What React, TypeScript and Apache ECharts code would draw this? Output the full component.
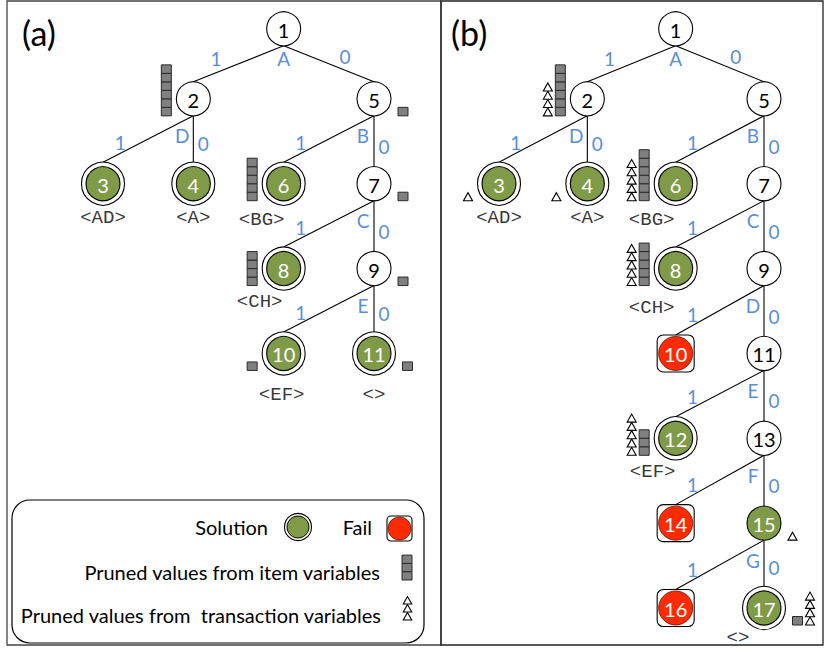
import React, { useEffect, useRef } from 'react';
import * as echarts from 'echarts';

// ---------------- Panel (a) : search tree ----------------
const idsA = [1, 2, 3, 4, 5, 6, 7, 8, 9, 10, 11];
const parentA = [0, 1, 2, 2, 1, 5, 5, 7, 7, 9, 9];
const branchA = ['', '1', '1', '0', '0', '1', '0', '1', '0', '1', '0'];
const columnA = [2, 1, 0, 1, 3, 2, 3, 2, 3, 2, 3];
const depthA = [0, 1, 2, 2, 1, 2, 2, 3, 3, 4, 4];
const kindA = ['open', 'open', 'solution', 'solution', 'open', 'solution', 'open', 'solution', 'open', 'solution', 'solution'];
const variableA = ['A', 'D', '', '', 'B', '', 'C', '', 'E', '', ''];
const itemPrunedA = [0, 6, 0, 0, 1, 5, 1, 4, 1, 1, 1];
const transPrunedA = [0, 0, 0, 0, 0, 0, 0, 0, 0, 0, 0];
const pruneSideA = ['', 'left', '', '', 'right', 'left', 'right', 'left', 'right', 'left', 'right'];
const patternA = ['', '', '<AD>', '<A>', '', '<BG>', '', '<CH>', '', '<EF>', '<>'];

// ---------------- Panel (b) : search tree ----------------
const idsB = [1, 2, 3, 4, 5, 6, 7, 8, 9, 10, 11, 12, 13, 14, 15, 16, 17];
const parentB = [0, 1, 2, 2, 1, 5, 5, 7, 7, 9, 9, 11, 11, 13, 13, 15, 15];
const branchB = ['', '1', '1', '0', '0', '1', '0', '1', '0', '1', '0', '1', '0', '1', '0', '1', '0'];
const columnB = [2, 1, 0, 1, 3, 2, 3, 2, 3, 2, 3, 2, 3, 2, 3, 2, 3];
const depthB = [0, 1, 2, 2, 1, 2, 2, 3, 3, 4, 4, 5, 5, 6, 6, 7, 7];
const kindB = ['open', 'open', 'solution', 'solution', 'open', 'solution', 'open', 'solution', 'open', 'fail', 'open', 'solution', 'open', 'fail', 'partial', 'fail', 'solution'];
const variableB = ['A', 'D', '', '', 'B', '', 'C', '', 'D', '', 'E', '', 'F', '', 'G', '', ''];
const itemPrunedB = [0, 6, 0, 0, 0, 6, 0, 5, 0, 0, 0, 3, 0, 0, 0, 0, 1];
const transPrunedB = [0, 4, 1, 1, 0, 5, 0, 5, 0, 0, 0, 5, 0, 0, 1, 0, 4];
const pruneSideB = ['', 'left', 'left', 'left', '', 'left', '', 'left', '', '', '', 'left', '', '', 'right', '', 'right'];
const patternB = ['', '', '<AD>', '<A>', '', '<BG>', '', '<CH>', '', '', '', '<EF>', '', '', '', '', '<>'];

// ---------------- Legend texts ----------------
const legendSolution = 'Solution';
const legendFail = 'Fail';
const legendItems = 'Pruned values from item variables';
const legendTrans = 'Pruned values from  transaction variables';
const panelTitles = ['(a)', '(b)'];

// ---------------- styles / layout ----------------
const BLUE = '#5a8fd8';
const GREEN = '#7f9b48';
const RED = '#ff2b00';
const SQUARE = '#808080';
const FONT = 'Lato, "Open Sans", sans-serif';
const MONO = '"Liberation Mono", "DejaVu Sans Mono", monospace';
const ROOT_LEVEL = 0.175;

const patternShiftA: Record<number, number[]> = { 6: [-22, 36], 8: [-24, 33], 10: [-2, 42], 11: [0, 42] };
const patternShiftB: Record<number, number[]> = { 6: [-24, 36], 8: [-24, 39], 12: [-23, 34], 17: [-26, 30] };

type Panel = {
  ids: number[]; parent: number[]; branch: string[]; column: number[]; depth: number[];
  kind: string[]; variable: string[]; itemPruned: number[]; transPruned: number[];
  pruneSide: string[]; pattern: string[]; shift: Record<number, number[]>;
};

const panels: Panel[] = [
  { ids: idsA, parent: parentA, branch: branchA, column: columnA, depth: depthA, kind: kindA, variable: variableA,
    itemPruned: itemPrunedA, transPruned: transPrunedA, pruneSide: pruneSideA, pattern: patternA, shift: patternShiftA },
  { ids: idsB, parent: parentB, branch: branchB, column: columnB, depth: depthB, kind: kindB, variable: variableB,
    itemPruned: itemPrunedB, transPruned: transPrunedB, pruneSide: pruneSideB, pattern: patternB, shift: patternShiftB },
];

const levelOf = (d: number) => (d === 0 ? ROOT_LEVEL : d);
const radiusOf = (k: string) => (k === 'solution' ? 21.5 : k === 'fail' ? 18.5 : 17);

function squareStack(xLeft: number, bottom: number, n: number, w = 10, h = 8.5) {
  const out: any[] = [];
  for (let k = 0; k < n; k++) {
    out.push({ type: 'rect', shape: { x: xLeft, y: bottom - (k + 1) * h, width: w, height: h },
      style: { fill: SQUARE, stroke: '#2a2a2a', lineWidth: 1 } });
  }
  return out;
}
function triangleStack(cx: number, bottom: number, n: number, w = 9, h = 8, step = 8.3) {
  const out: any[] = [];
  for (let k = 0; k < n; k++) {
    const b = bottom - k * step;
    out.push({ type: 'polygon', shape: { points: [[cx - w / 2, b], [cx + w / 2, b], [cx, b - h]] },
      style: { fill: '#fff', stroke: '#000', lineWidth: 1.1 } });
  }
  return out;
}

function nodeShapes(kind: string, x: number, y: number) {
  const out: any[] = [];
  if (kind === 'open') {
    out.push({ type: 'circle', shape: { cx: x, cy: y, r: 17 }, style: { fill: '#fff', stroke: '#000', lineWidth: 1.1 } });
  } else if (kind === 'partial') {
    out.push({ type: 'circle', shape: { cx: x, cy: y, r: 17 }, style: { fill: GREEN, stroke: '#000', lineWidth: 1.1 } });
  } else if (kind === 'solution') {
    out.push({ type: 'circle', shape: { cx: x, cy: y, r: 21.5 }, style: { fill: '#fff', stroke: '#000', lineWidth: 1.1 } });
    out.push({ type: 'circle', shape: { cx: x, cy: y, r: 17 }, style: { fill: GREEN, stroke: '#000', lineWidth: 1.1 } });
  } else {
    out.push({ type: 'rect', shape: { x: x - 18.5, y: y - 18.5, width: 37, height: 37, r: 6 },
      style: { fill: '#fff', stroke: '#000', lineWidth: 1.1 } });
    out.push({ type: 'circle', shape: { cx: x, cy: y, r: 17 }, style: { fill: RED, stroke: '#5a1000', lineWidth: 0.8 } });
  }
  return out;
}

function buildSeries(P: Panel, gi: number) {
  const edges: any[] = [];
  P.ids.forEach((id, i) => {
    if (P.parent[i] === 0) return;
    const pi = P.ids.indexOf(P.parent[i]);
    edges.push({ pi, ci: i });
  });
  const edgeSeries = {
    type: 'custom', xAxisIndex: gi, yAxisIndex: gi, clip: false, z: 2, silent: true,
    data: edges.map((e) => [P.column[e.pi], levelOf(P.depth[e.pi]), P.column[e.ci], levelOf(P.depth[e.ci])]),
    renderItem: (params: any, api: any) => {
      const e = edges[params.dataIndex];
      const p = api.coord([api.value(0), api.value(1)]);
      const c = api.coord([api.value(2), api.value(3)]);
      const sx = p[0], sy = p[1] + radiusOf(P.kind[e.pi]);
      const ex = c[0], ey = c[1] - radiusOf(P.kind[e.ci]);
      const isRoot = P.depth[e.pi] === 0;
      const br = P.branch[e.ci];
      let lx: number, ly: number;
      if (isRoot) {
        const t = br === '1' ? 0.75 : 0.68;
        lx = sx + (ex - sx) * t; ly = sy + (ey - sy) * t - 14;
      } else if (br === '1') {
        const t = 0.81;
        lx = sx + (ex - sx) * t; ly = sy + (ey - sy) * t - 11;
      } else {
        lx = sx + 10; ly = sy + (ey - sy) * 0.6;
      }
      return {
        type: 'group',
        children: [
          { type: 'line', shape: { x1: sx, y1: sy, x2: ex, y2: ey }, style: { stroke: '#000', lineWidth: 1.1 } },
          { type: 'text', style: { text: br, x: lx, y: ly, textAlign: 'center', textVerticalAlign: 'middle',
            fill: BLUE, fontSize: 19, fontFamily: FONT } },
        ],
      };
    },
  };
  const nodeSeries = {
    type: 'custom', xAxisIndex: gi, yAxisIndex: gi, clip: false, z: 3, silent: true,
    data: P.ids.map((id, i) => [P.column[i], levelOf(P.depth[i])]),
    renderItem: (params: any, api: any) => {
      const i = params.dataIndex;
      const pt = api.coord([api.value(0), api.value(1)]);
      const x = pt[0], y = pt[1];
      const kind = P.kind[i];
      const r = radiusOf(kind);
      const children: any[] = [];
      const ni = P.itemPruned[i], nt = P.transPruned[i];
      const bottom = y + 17;
      if (P.pruneSide[i] === 'left') {
        let right = x - r - 5;
        if (ni > 0) { children.push(...squareStack(right - 10, bottom, ni)); right -= 13; }
        if (nt > 0) { children.push(...triangleStack(right - 4.5, bottom, nt)); }
      } else if (P.pruneSide[i] === 'right') {
        let left = x + r + 7;
        if (ni > 0) { children.push(...squareStack(left, bottom, ni)); left += 13; }
        if (nt > 0) { children.push(...triangleStack(left + 4.5, bottom, nt)); }
      }
      children.push(...nodeShapes(kind, x, y));
      children.push({ type: 'text', style: { text: String(P.ids[i]), x, y: y + 1, textAlign: 'center', textVerticalAlign: 'middle',
        fill: kind === 'open' ? '#000' : '#fff', fontSize: 20, fontFamily: FONT } });
      if (P.variable[i]) {
        const root = P.depth[i] === 0;
        children.push({ type: 'text', style: { text: P.variable[i], x: root ? x : x - 11, y: root ? y + 30 : y + 37,
          textAlign: 'center', textVerticalAlign: 'middle', fill: BLUE, fontSize: 19, fontFamily: FONT } });
      }
      if (P.pattern[i]) {
        const sh = P.shift[P.ids[i]] || [0, 34];
        children.push({ type: 'text', style: { text: P.pattern[i], x: x + sh[0], y: y + sh[1], textAlign: 'center',
          textVerticalAlign: 'middle', fill: '#3a3a3a', fontSize: 19, fontFamily: MONO } });
      }
      return { type: 'group', children };
    },
  };
  return [edgeSeries, nodeSeries];
}

function legendGraphic() {
  const els: any[] = [];
  els.push({ type: 'rect', shape: { x: 12, y: 500, width: 412, height: 143, r: 18 },
    style: { fill: '#fff', stroke: '#000', lineWidth: 1.2 }, z: 1 });
  const txt = (text: string, x: number, y: number) => ({ type: 'text', z: 2,
    style: { text, x, y, textAlign: 'right', textVerticalAlign: 'middle', fill: '#000', fontSize: 20, fontFamily: FONT } });
  els.push(txt(legendSolution, 268, 527));
  els.push(txt(legendFail, 372, 527));
  els.push(txt(legendItems, 380, 572));
  els.push(txt(legendTrans, 381, 615));
  els.push({ type: 'circle', z: 2, shape: { cx: 298, cy: 527, r: 13.5 }, style: { fill: '#fff', stroke: '#000', lineWidth: 1.1 } });
  els.push({ type: 'circle', z: 2, shape: { cx: 298, cy: 527, r: 11 }, style: { fill: GREEN, stroke: '#000', lineWidth: 1 } });
  els.push({ type: 'rect', z: 2, shape: { x: 387, y: 516, width: 25, height: 25, r: 4 }, style: { fill: '#fff', stroke: '#000', lineWidth: 1.1 } });
  els.push({ type: 'circle', z: 2, shape: { cx: 399.5, cy: 528.5, r: 11.5 }, style: { fill: RED, stroke: '#5a1000', lineWidth: 0.8 } });
  squareStack(402, 580, 3, 10, 8.3).forEach((e) => els.push({ ...e, z: 2 }));
  triangleStack(407.5, 620, 3, 8.5, 7.5, 8).forEach((e) => els.push({ ...e, z: 2 }));
  return els;
}

export default function App() {
  const ref = useRef<HTMLDivElement>(null);
  useEffect(() => {
    document.body.style.margin = '0';
    const chart = echarts.init(ref.current!, undefined, { renderer: 'svg' });
    const series = [...buildSeries(panels[0], 0), ...buildSeries(panels[1], 1)];
    const graphic: any[] = [
      { type: 'rect', z: 0, shape: { x: 7, y: 1, width: 434, height: 644 }, style: { fill: 'none', stroke: '#444', lineWidth: 1.3 } },
      { type: 'rect', z: 0, shape: { x: 441, y: 1, width: 382, height: 644 }, style: { fill: 'none', stroke: '#222', lineWidth: 1.3 } },
      { type: 'text', z: 2, style: { text: panelTitles[0], x: 22, y: 32, textAlign: 'left', textVerticalAlign: 'middle', fill: '#000', fontSize: 34, fontFamily: FONT } },
      { type: 'text', z: 2, style: { text: panelTitles[1], x: 451, y: 32, textAlign: 'left', textVerticalAlign: 'middle', fill: '#000', fontSize: 34, fontFamily: FONT } },
      ...legendGraphic(),
    ];
    chart.setOption({
      animation: false,
      backgroundColor: '#fff',
      grid: [
        { left: 103, top: 14, width: 271, height: 594 },
        { left: 499, top: 14, width: 265, height: 594 },
      ],
      xAxis: [
        { gridIndex: 0, type: 'value', min: 0, max: 3, show: false },
        { gridIndex: 1, type: 'value', min: 0, max: 3, show: false },
      ],
      yAxis: [
        { gridIndex: 0, type: 'value', min: 0, max: 7, inverse: true, show: false },
        { gridIndex: 1, type: 'value', min: 0, max: 7, inverse: true, show: false },
      ],
      series,
      graphic,
    });
    return () => chart.dispose();
  }, []);
  return <div ref={ref} style={{ width: 826, height: 650 }} />;
}
